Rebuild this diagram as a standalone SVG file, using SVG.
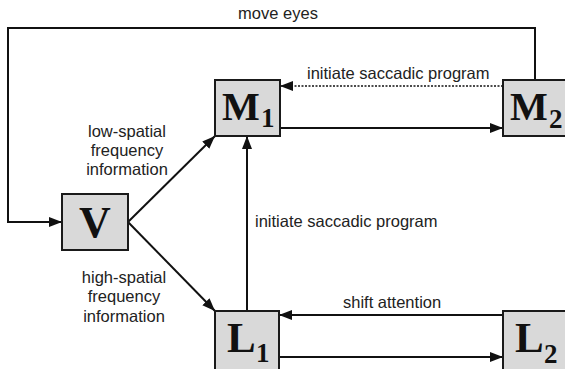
<svg xmlns="http://www.w3.org/2000/svg" width="565" height="369" viewBox="0 0 565 369">
<defs>
<marker id="ah" markerUnits="userSpaceOnUse" markerWidth="14" markerHeight="11" refX="13" refY="5" orient="auto">
<path d="M0,0 L13,5 L0,10 z" fill="#111"/>
</marker>
<style>
.box{fill:#d9d9d9;stroke:#1a1a1a;stroke-width:2}
.lbl{font-family:"Liberation Serif","Times New Roman",serif;font-weight:bold;fill:#111}
.t{font-family:"Liberation Sans",Arial,sans-serif;font-size:16.5px;fill:#222}
.e{fill:none;stroke:#111;stroke-width:2;marker-end:url(#ah)}
.d{stroke-dasharray:2,1.5;stroke-width:1.6}
</style>
</defs>
<rect width="565" height="369" fill="#fff"/>
<g id="connectors">
<path class="e" d="M535,80 V28 H8 V222 H62"/>
<path class="e d" d="M503,86 H280"/>
<path class="e" d="M280,128 H503"/>
<path class="e" d="M128,222 L215,136"/>
<path class="e" d="M128,222 L215,311"/>
<path class="e" d="M247,311 V136"/>
<path class="e" d="M503,315 H279"/>
<path class="e" d="M279,357 H503"/>
</g>
<g id="labels">
<text class="t" x="278" y="19" text-anchor="middle">move eyes</text>
<text class="t" x="307" y="79">initiate saccadic program</text>
<text class="t" x="255" y="227">initiate saccadic program</text>
<text class="t" x="343" y="308">shift attention</text>
<text class="t" text-anchor="middle"><tspan x="127" y="137">low-spatial</tspan><tspan x="127" y="156">frequency</tspan><tspan x="127" y="175">information</tspan></text>
<text class="t" text-anchor="middle"><tspan x="124" y="283">high-spatial</tspan><tspan x="124" y="302">frequency</tspan><tspan x="124" y="322">information</tspan></text>
</g>
<g id="V">
<rect class="box" x="62" y="194" width="66" height="56"/>
<text class="lbl" x="95" y="237" font-size="44" text-anchor="middle">V</text>
</g>
<g id="M1">
<rect class="box" x="215" y="80" width="65" height="56"/>
<text class="lbl" x="222" y="120" font-size="40">M</text>
<text class="lbl" x="261" y="127" font-size="27">1</text>
</g>
<g id="M2">
<rect class="box" x="503" y="80" width="66" height="56"/>
<text class="lbl" x="510" y="120" font-size="40">M</text>
<text class="lbl" x="549" y="128" font-size="27">2</text>
</g>
<g id="L1">
<rect class="box" x="215" y="311" width="64" height="62"/>
<text class="lbl" x="227" y="352" font-size="43">L</text>
<text class="lbl" x="256" y="362" font-size="27">1</text>
</g>
<g id="L2">
<rect class="box" x="503" y="311" width="66" height="62"/>
<text class="lbl" x="515" y="352" font-size="43">L</text>
<text class="lbl" x="544" y="363" font-size="27">2</text>
</g>
</svg>
